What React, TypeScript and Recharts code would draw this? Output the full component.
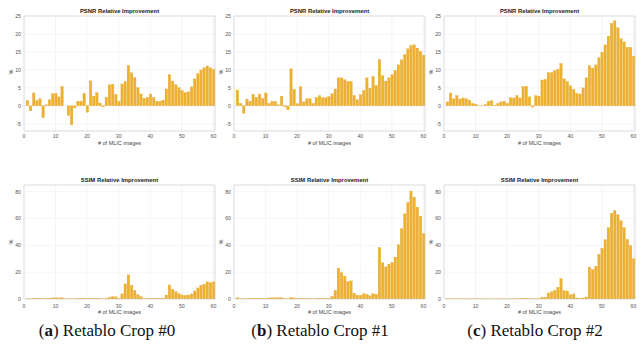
import React from 'react';
import { BarChart, Bar, XAxis, YAxis, CartesianGrid, ReferenceLine } from 'recharts';

const imageCounts = Array.from({ length: 60 }, (_, i) => i + 1);
const xTicks = [0, 10, 20, 30, 40, 50, 60];
const psnrTicks = [-5, 0, 5, 10, 15, 20, 25];
const ssimTicks = [0, 20, 40, 60, 80];

const psnrA = [1.5, -1.4, 3.6, 1.5, 2.0, -3.3, 0.3, 1.7, 3.4, 3.5, 2.5, 5.4, 0.0, -2.7, -5.3, -0.6, 1.3, 1.3, 3.5, -1.8, 7.0, 2.7, 3.7, 0.8, -0.3, 2.4, 5.9, 6.0, 3.2, 1.3, 6.1, 6.8, 11.3, 9.2, 7.9, 5.1, 3.3, 2.1, 2.4, 3.3, 2.4, 1.3, 1.3, 1.6, 4.7, 8.7, 6.9, 5.9, 5.1, 4.3, 3.7, 3.9, 5.3, 7.5, 9.0, 10.0, 10.6, 11.1, 10.6, 10.2];
const psnrB = [4.4, 0.7, -2.1, 1.9, 1.3, 3.2, 2.4, 3.3, 2.1, 3.6, 0.7, 1.3, 1.3, 0.3, 2.7, -0.3, -1.1, 10.3, 4.6, 0.6, 5.4, 1.1, 2.0, 2.0, 0.7, 2.4, 2.9, 2.3, 2.3, 2.6, 3.4, 4.7, 7.8, 7.8, 7.3, 6.8, 6.8, 2.9, 1.7, 3.1, 4.3, 7.8, 4.9, 8.2, 5.7, 12.9, 8.4, 6.9, 7.8, 8.7, 9.9, 11.4, 12.8, 14.3, 15.9, 16.8, 17.0, 16.1, 15.2, 14.1];
const psnrC = [1.1, 3.6, 2.0, 2.9, 1.9, 2.2, 2.0, 1.6, 0.7, 0.5, 0.1, 0.1, 0.4, 1.3, 1.5, 0.2, 0.7, 1.1, 1.3, 0.7, 2.3, 2.2, 2.9, 2.2, 5.4, 5.5, 2.5, -0.4, 2.9, 2.7, 7.2, 7.4, 9.3, 9.3, 9.8, 10.2, 11.8, 7.5, 6.8, 5.6, 4.6, 3.5, 3.3, 5.0, 7.8, 11.2, 10.5, 11.4, 13.4, 14.9, 17.0, 19.4, 23.0, 23.7, 21.7, 18.7, 17.8, 16.3, 16.3, 13.8];
const ssimA = [0.3, 0.2, 0.5, 0.5, 0.4, 0.2, 0.6, 0.7, 0.8, 0.9, 0.8, 1.0, 0.3, 0.2, 0.2, 0.1, 0.4, 0.5, 0.6, 0.2, 0.5, 0.4, 0.6, 0.2, 0.1, 0.6, 1.3, 1.8, 1.6, 0.4, 3.8, 11.3, 18.0, 10.3, 6.5, 3.3, 1.8, 0.3, 0.4, 0.6, 0.5, 0.5, 0.4, 0.7, 3.0, 10.5, 7.3, 5.5, 4.0, 3.0, 2.8, 3.0, 3.8, 6.0, 8.3, 10.3, 11.0, 12.8, 12.3, 12.8];
const ssimB = [1.0, 0.3, 0.2, 0.3, 0.5, 0.6, 0.5, 0.6, 0.5, 0.6, 0.8, 0.9, 1.0, 1.1, 1.0, 0.3, 0.1, 1.3, 0.8, 0.3, 0.6, 0.2, 0.3, 0.3, 0.2, 0.4, 0.5, 0.5, 0.3, 0.4, 2.0, 6.5, 23.0, 19.8, 17.0, 13.0, 13.5, 4.3, 2.8, 2.8, 4.0, 3.5, 2.5, 4.0, 3.5, 38.5, 27.0, 24.0, 26.0, 27.3, 31.3, 40.5, 52.5, 63.5, 72.0, 80.5, 76.0, 68.5, 61.8, 48.8];
const ssimC = [0.2, 0.2, 0.2, 0.2, 0.2, 0.1, 0.2, 0.2, 0.2, 0.1, 0.1, 0.1, 0.1, 0.1, 0.1, 0.1, 0.1, 0.1, 0.1, 0.1, 0.2, 0.2, 0.3, 0.4, 0.5, 0.7, 0.3, 0.2, 0.2, 0.3, 1.3, 1.3, 4.5, 5.5, 6.5, 8.8, 15.3, 6.3, 6.0, 3.3, 3.8, 0.8, 0.5, 0.8, 1.5, 23.8, 22.0, 24.5, 33.3, 37.8, 44.3, 53.3, 64.0, 66.0, 62.8, 58.3, 53.3, 44.5, 40.0, 30.0];

const toRows = (vals: number[]) => imageCounts.map((x, i) => ({ x, v: vals[i] }));

const BAR_COLOR = '#ECB132';
const FONT = '"Liberation Sans", Arial, sans-serif';

const BarShape = (props: any) => {
  const { x, y, width, height } = props;
  if (x == null || y == null || width == null || height == null) return null;
  const bw = 2.6;
  const cx = x + width / 2;
  const y0 = height < 0 ? y + height : y;
  const h = Math.abs(height);
  return <rect x={cx - bw / 2} y={y0} width={bw} height={h} fill={BAR_COLOR} stroke="#E3A424" strokeWidth={0.2} />;
};

type PanelProps = {
  vals: number[];
  left: number;
  top: number;
  plotW: number;
  plotH: number;
  yDomain: [number, number];
  yTicks: number[];
  xTickGap: number;
};

const Panel = ({ vals, left, top, plotW, plotH, yDomain, yTicks, xTickGap }: PanelProps) => {
  const mL = 22, mT = 2, mB = 14, mR = 2;
  const tickStyle = { fontSize: 5.2, fill: '#555', fontFamily: FONT };
  return (
    <div style={{ position: 'absolute', left: left - mL, top: top - mT }}>
      <BarChart
        width={plotW + mL + mR}
        height={plotH + mT + mB}
        data={toRows(vals)}
        margin={{ top: mT, right: mR, left: 0, bottom: 0 }}
      >
        <CartesianGrid stroke="#ebebeb" strokeWidth={0.5} />
        <XAxis
          dataKey="x"
          type="number"
          domain={[0, 60.5]}
          ticks={xTicks}
          tickSize={0}
          tickMargin={xTickGap}
          height={mB}
          axisLine={{ stroke: '#c4c4c4', strokeWidth: 0.5 }}
          tick={tickStyle}
          interval={0}
        />
        <YAxis
          type="number"
          domain={yDomain}
          ticks={yTicks}
          width={mL}
          tickSize={0}
          tickMargin={3}
          axisLine={{ stroke: '#c4c4c4', strokeWidth: 0.5 }}
          tick={tickStyle}
          interval={0}
          allowDataOverflow
        />
        <ReferenceLine y={yDomain[1]} stroke="#c4c4c4" strokeWidth={0.5} />
        <ReferenceLine x={60.5} stroke="#c4c4c4" strokeWidth={0.5} />
        <Bar dataKey="v" shape={BarShape} isAnimationActive={false} />
      </BarChart>
    </div>
  );
};

const lefts = [24, 234, 444];
const PLOT_W = 191;
const TOP_T = 16, TOP_H = 115;
const BOT_T = 184.5, BOT_H = 114;
const psnrSets = [psnrA, psnrB, psnrC];
const ssimSets = [ssimA, ssimB, ssimC];
const captionLetters = ['a', 'b', 'c'];
const captionNames = ['Retablo Crop #0', 'Retablo Crop #1', 'Retablo Crop #2'];
const captionCenters = [107, 320, 535];

export default function App() {
  return (
    <div style={{ position: 'absolute', left: 0, top: 0, width: 642, height: 345, background: '#fff', overflow: 'hidden' }}>
      {psnrSets.map((vals, i) => (
        <Panel key={'p' + i} vals={vals} left={lefts[i]} top={TOP_T} plotW={PLOT_W} plotH={TOP_H} yDomain={[-7, 25]} yTicks={psnrTicks} xTickGap={3.5} />
      ))}
      {ssimSets.map((vals, i) => (
        <Panel key={'s' + i} vals={vals} left={lefts[i]} top={BOT_T} plotW={PLOT_W} plotH={BOT_H} yDomain={[0, 85]} yTicks={ssimTicks} xTickGap={5} />
      ))}
      <svg width={642} height={345} style={{ position: 'absolute', left: 0, top: 0, pointerEvents: 'none' }}>
        {lefts.map((l, i) => (
          <g key={'t' + i} fontFamily={FONT}>
            <text x={l + 95.5} y={13} textAnchor="middle" fontSize={5.9} fontWeight="bold" fill="#222">PSNR Relative Improvement</text>
            <text x={l + 95.5} y={145} textAnchor="middle" fontSize={5.5} fill="#444"># of MLIC images</text>
            <text x={l - 11} y={72} textAnchor="middle" fontSize={5.5} fill="#444" transform={`rotate(-90 ${l - 11} 72)`}>%</text>
            <text x={l + 95.5} y={182} textAnchor="middle" fontSize={5.9} fontWeight="bold" fill="#222">SSIM Relative Improvement</text>
            <text x={l + 95.5} y={314} textAnchor="middle" fontSize={5.5} fill="#444"># of MLIC images</text>
            <text x={l - 11} y={242} textAnchor="middle" fontSize={5.5} fill="#444" transform={`rotate(-90 ${l - 11} 242)`}>%</text>
          </g>
        ))}
        {captionCenters.map((c, i) => (
          <text key={'c' + i} x={c} y={336} textAnchor="middle" fontSize={17} fontFamily='"Liberation Serif", "Times New Roman", serif' fill="#111">
            (<tspan fontWeight="bold">{captionLetters[i]}</tspan>) {captionNames[i]}
          </text>
        ))}
      </svg>
    </div>
  );
}
